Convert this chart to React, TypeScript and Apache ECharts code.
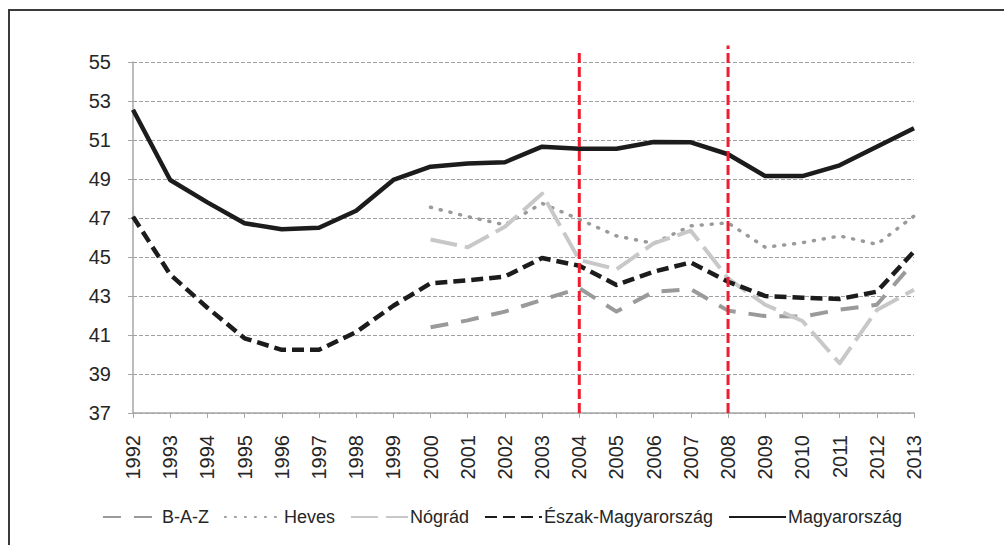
import React, { useEffect, useRef } from "react";
import * as echarts from "echarts";

const years = ["1992","1993","1994","1995","1996","1997","1998","1999","2000","2001","2002","2003","2004","2005","2006","2007","2008","2009","2010","2011","2012","2013"];
const yTicks = { min: 37, max: 55, interval: 2 };

const baz = [null,null,null,null,null,null,null,null,41.4,41.75,42.2,42.8,43.4,42.2,43.22,43.35,42.25,41.97,41.94,42.3,42.55,44.75];
const heves = [null,null,null,null,null,null,null,null,47.55,47.07,46.65,47.75,46.93,46.08,45.7,46.6,46.75,45.5,45.73,46.08,45.65,47.1];
const nograd = [null,null,null,null,null,null,null,null,45.9,45.5,46.55,48.25,44.85,44.37,45.7,46.35,43.9,42.55,41.72,39.55,42.28,43.32];
const eszak = [47.07,44.1,42.4,40.83,40.24,40.24,41.15,42.5,43.65,43.8,44.0,44.95,44.55,43.57,44.25,44.72,43.73,43.0,42.91,42.85,43.22,45.28];
const magyar = [52.55,48.95,47.8,46.73,46.42,46.5,47.37,48.95,49.63,49.8,49.86,50.66,50.55,50.55,50.9,50.88,50.27,49.15,49.15,49.7,50.65,51.6];

const markYears = ["2004", "2008"];
const markTops = [55.6, 55.85];

const FONT = "Liberation Sans";

export default function App() {
  const ref = useRef<HTMLDivElement>(null);
  useEffect(() => {
    if (!ref.current) return;
    const chart = echarts.init(ref.current, undefined, { renderer: "svg" });
    const mk = (name: string, data: (number | null)[], color: string, width: number, type: any, cap: any = "butt", z = 2) => ({
      name,
      type: "line",
      data: data.map((v) => (v === null ? "-" : v)),
      symbol: "none",
      showSymbol: false,
      connectNulls: false,
      z,
      lineStyle: { color, width, type, cap, join: "round" },
      itemStyle: { color },
    });
    const redSeries = markYears.map((yr, i) => ({
      name: "mark" + yr,
      type: "line",
      data: [[yr, yTicks.min], [yr, markTops[i]]],
      symbol: "none",
      clip: false,
      z: 10,
      silent: true,
      lineStyle: { color: "#ee1d30", width: 3, type: [10, 4] },
    }));
    chart.setOption({
      animation: false,
      textStyle: { fontFamily: FONT },
      graphic: [
        {
          type: "rect",
          shape: { x: 9, y: 10, width: 1100, height: 600 },
          style: { fill: "none", stroke: "#3a3a3a", lineWidth: 2 },
          silent: true,
        },
      ],
      grid: { left: 133, top: 62, width: 781, height: 351, containLabel: false },
      legend: {
        data: ["B-A-Z", "Heves", "Nógrád", "Észak-Magyarország", "Magyarország"],
        left: "center",
        top: 503,
        itemWidth: 57,
        itemHeight: 14,
        itemGap: 15,
        itemStyle: { opacity: 0 },
        textStyle: { fontFamily: FONT, fontSize: 18, color: "#262626", padding: [0, 0, 0, -3] },
      },
      xAxis: {
        type: "category",
        data: years,
        boundaryGap: false,
        axisLine: { lineStyle: { color: "#a6a6a6", width: 1.5 } },
        axisTick: { show: true, length: 5, alignWithLabel: true, lineStyle: { color: "#a6a6a6" } },
        axisLabel: { rotate: 90, margin: 22, fontSize: 20, color: "#262626", fontFamily: FONT, interval: 0 },
        splitLine: { show: false },
      },
      yAxis: {
        type: "value",
        min: yTicks.min,
        max: yTicks.max,
        interval: yTicks.interval,
        axisLine: { show: true, lineStyle: { color: "#a6a6a6", width: 1.5 } },
        axisTick: { show: true, length: 5, lineStyle: { color: "#a6a6a6" } },
        axisLabel: { margin: 22, fontSize: 20, color: "#262626", fontFamily: FONT },
        splitLine: { show: true, lineStyle: { color: "#a0a0a0", width: 1, type: [4, 2] } },
      },
      series: [
        mk("B-A-Z", baz, "#9a9a9a", 4, [18, 13]),
        mk("Heves", heves, "#9a9a9a", 3.5, [1, 9], "round"),
        mk("Nógrád", nograd, "#c8c8c8", 4, [27, 8]),
        mk("Észak-Magyarország", eszak, "#1c1c1c", 4.5, [12, 6]),
        mk("Magyarország", magyar, "#1c1c1c", 4.5, "solid"),
        ...redSeries,
      ],
    });
    return () => chart.dispose();
  }, []);
  return <div ref={ref} style={{ position: "fixed", left: 0, top: 0, width: 1004, height: 545, background: "#fff" }} />;
}
